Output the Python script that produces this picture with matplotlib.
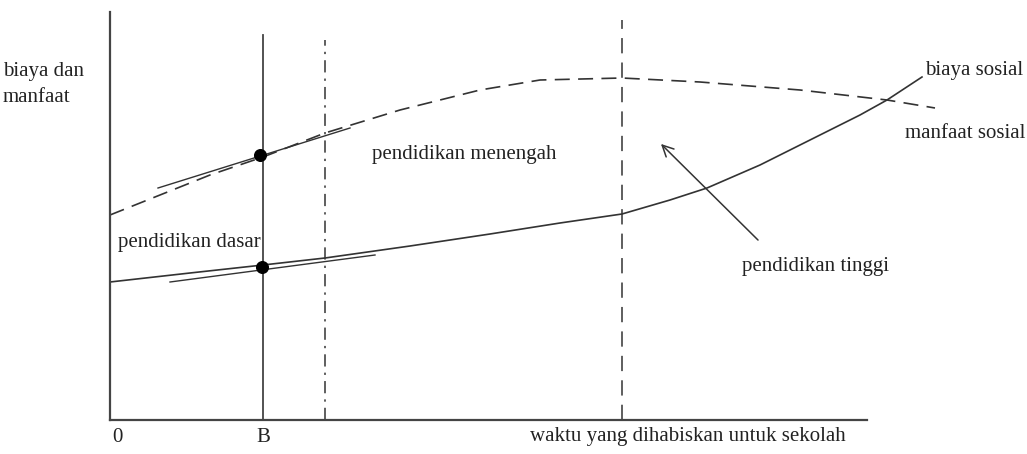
import matplotlib.pyplot as plt

plt.rcParams['font.family'] = ['Liberation Serif', 'DejaVu Serif']

# curve points (time spent at school vs cost/benefit)
manfaat_x = [0, 50, 100, 153, 215, 290, 370, 430, 512, 590, 690, 777, 825]
manfaat_y = [205, 225, 245, 263, 287, 310, 330, 340, 342, 338, 330, 320, 312]
biaya_x = [0, 80, 153, 215, 300, 380, 450, 512, 560, 597, 650, 700, 750, 777, 812]
biaya_y = [138, 147, 155, 162, 174, 186, 197, 206, 220, 232, 255, 280, 305, 320, 343]

# short hand-drawn tangent strokes near point B
tangent_hi_x = [48, 240]
tangent_hi_y = [232, 292]
tangent_lo_x = [60, 265]
tangent_lo_y = [138, 165]

# vertical markers: B, end of secondary, end of higher education
b_x = 153
b_top = 385
menengah_x = 215
menengah_top = 380
tinggi_x = 512
tinggi_top = 400

dots_x = [150, 152]
dots_y = [265, 153]

fig = plt.figure(figsize=(10.27, 4.54), dpi=100)
ax = fig.add_axes([110 / 1027, 34 / 454, 757 / 1027, 408 / 454])
ax.set_xlim(0, 757)
ax.set_ylim(0, 408)
for s in ['top', 'right']:
    ax.spines[s].set_visible(False)
for s in ['left', 'bottom']:
    ax.spines[s].set_color('#444444')
    ax.spines[s].set_linewidth(1.6)
ax.set_xticks([])
ax.set_yticks([])

col = '#333333'
ax.plot(manfaat_x, manfaat_y, color=col, lw=1.2, ls=(0, (9, 5)), clip_on=False)
ax.plot(biaya_x, biaya_y, color=col, lw=1.2, clip_on=False)
ax.plot(tangent_hi_x, tangent_hi_y, color=col, lw=1.0, clip_on=False)
ax.plot(tangent_lo_x, tangent_lo_y, color=col, lw=1.0, clip_on=False)

ax.plot([b_x, b_x], [0, b_top], color='#444444', lw=1.3)
ax.plot([menengah_x, menengah_x], [0, menengah_top], color=col, lw=1.1, ls=(0, (8, 4, 1.5, 4)))
ax.plot([tinggi_x, tinggi_x], [0, tinggi_top], color=col, lw=1.1, ls=(0, (10, 6)))

ax.scatter(dots_x, dots_y, s=70, color='black', marker='o', zorder=5)

ax.annotate('', xy=(549, 278), xytext=(650, 178),
            arrowprops=dict(arrowstyle='->', color=col, lw=1.1, mutation_scale=20))

fs = 15
tc = '#222222'
ax.text(-107, 358, 'biaya dan\nmanfaat', fontsize=fs, va='top', ha='left', linespacing=1.5, color=tc)
ax.text(262, 265, 'pendidikan menengah', fontsize=fs, va='center', color=tc)
ax.text(8, 177, 'pendidikan dasar', fontsize=fs, va='center', color=tc)
ax.text(632, 153, 'pendidikan tinggi', fontsize=fs, va='center', color=tc)
ax.text(815, 349, 'biaya sosial', fontsize=fs, va='center', color=tc)
ax.text(795, 286, 'manfaat sosial', fontsize=fs, va='center', color=tc)
ax.text(420, -17, 'waktu yang dihabiskan untuk sekolah', fontsize=fs, va='center', color=tc)
ax.text(2, -17, '0', fontsize=fs, va='center', color=tc)
ax.text(b_x, -17, 'B', fontsize=fs, va='center', ha='center', color=tc)

fig.savefig('out.png', dpi=100)
